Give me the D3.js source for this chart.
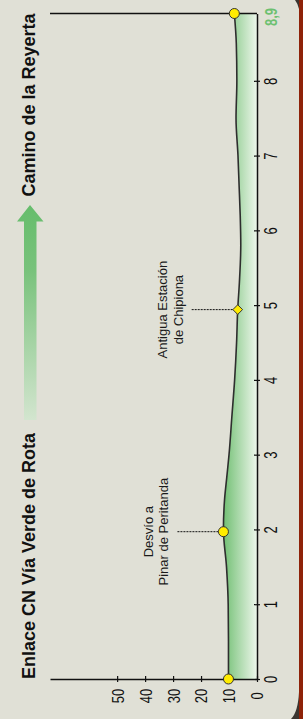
<!DOCTYPE html>
<html>
<head>
<meta charset="utf-8">
<script src="https://cdn.jsdelivr.net/npm/d3@7"></script>
<style>
  body { margin: 0; background: #e0e0d6; }
  svg { display: block; font-family: "Liberation Sans", Arial, sans-serif; }
</style>
</head>
<body>
<div id="chart"></div>
<script>
// Profile data (distance in km, elevation in m)
const distKm = [0, 0.5, 1, 1.5, 2, 2.4, 2.7, 3, 3.5, 4, 4.5, 4.94, 5.3, 5.8, 6.2, 6.6, 7, 7.5, 8, 8.5, 8.9];
const elevM  = [10.2, 10.2, 10.3, 10.9, 12, 11.6, 10.8, 10, 9, 8, 7.3, 6.9, 6.3, 5.8, 6.0, 6.4, 6.8, 7.5, 7.2, 7.4, 8.1];

// Waypoints
const wpKm    = [0, 1.97, 4.94, 8.9];
const wpElev  = [10.2, 12, 6.9, 8.1];
const wpShape = ["circle", "circle", "diamond", "circle"];
const wpLabel = [null, ["Desvío a", "Pinar de Peritanda"], ["Antigua Estación", "de Chipiona"], null];

// Axis ticks
const distTicks = [0, 1, 2, 3, 4, 5, 6, 7, 8];
const elevTicks = [0, 10, 20, 30, 40, 50];
const startName = "Enlace CN Vía Verde de Rota";
const endName = "Camino de la Reyerta";
const totalLabel = "8,9";

const W = 303, H = 719;
const profile = distKm.map((d, i) => ({ km: d, e: elevM[i] }));

const svg = d3.select("#chart").append("svg")
    .attr("width", W)
    .attr("height", H);

// Background + right border
svg.append("rect").attr("width", W).attr("height", H).attr("fill", "#e0e0d6");
svg.append("path")
    .attr("d", "M299,692 Q298,712 291,719 L299,719 Z")
    .attr("fill", "#3a3530");
svg.append("path")
    .attr("d", "M295,0 Q298,4 299,9 L299,0 Z")
    .attr("fill", "#3a3530");
svg.append("rect").attr("x", 299).attr("width", 4).attr("height", H).attr("fill", "#8e2208");

const defs = svg.append("defs");
const areaGrad = defs.append("linearGradient")
    .attr("id", "areaGrad")
    .attr("gradientUnits", "userSpaceOnUse")
    .attr("x1", 222).attr("x2", 257).attr("y1", 0).attr("y2", 0);
areaGrad.append("stop").attr("offset", 0).attr("stop-color", "#6cbd6e");
areaGrad.append("stop").attr("offset", 1).attr("stop-color", "#edf6eb");

const arrowGrad = defs.append("linearGradient")
    .attr("id", "arrowGrad")
    .attr("gradientUnits", "userSpaceOnUse")
    .attr("x1", 0).attr("x2", 0).attr("y1", 205).attr("y2", 420);
arrowGrad.append("stop").attr("offset", 0).attr("stop-color", "#66bd6c");
arrowGrad.append("stop").attr("offset", 0.3).attr("stop-color", "#78c27b");
arrowGrad.append("stop").attr("offset", 1).attr("stop-color", "#d3e5cf");

// Scales: distance runs up the page, elevation runs leftwards
const yDist = d3.scaleLinear().domain([0, 8.9]).range([679, 13.5]);
const xElev = d3.scaleLinear().domain([0, 74]).range([257, 50]);

// Filled profile
const area = d3.area()
    .y(d => yDist(d.km))
    .x0(xElev(0))
    .x1(d => xElev(d.e))
    .curve(d3.curveMonotoneY);
svg.append("path").datum(profile)
    .attr("d", area)
    .attr("fill", "url(#areaGrad)");

const line = d3.line()
    .y(d => yDist(d.km))
    .x(d => xElev(d.e))
    .curve(d3.curveMonotoneY);
svg.append("path").datum(profile)
    .attr("d", line)
    .attr("fill", "none")
    .attr("stroke", "#2e2e2e")
    .attr("stroke-width", 1.6);

// Distance axis (vertical)
const distAxis = svg.append("g")
    .attr("transform", `translate(${xElev(0)},0)`)
    .call(d3.axisRight(yDist).tickValues(distTicks).tickSizeOuter(0).tickFormat(d3.format("d")));
distAxis.select(".domain").attr("stroke", "#111").attr("stroke-width", 1.5);
distAxis.selectAll(".tick line").attr("x1", -3).attr("x2", 3).attr("stroke", "#111").attr("stroke-width", 1.2);
distAxis.selectAll(".tick text")
    .attr("x", null).attr("dy", "0.35em")
    .attr("transform", "translate(13.5,0) scale(1.35,1) rotate(-90)")
    .attr("text-anchor", "middle")
    .attr("font-size", 13)
    .attr("font-family", "Liberation Sans, Arial, sans-serif")
    .attr("fill", "#111");

// Elevation axis (horizontal, at km 0)
const elevAxis = svg.append("g")
    .attr("transform", `translate(0,${yDist(0)})`)
    .call(d3.axisBottom(xElev).tickValues(elevTicks).tickSizeOuter(0));
elevAxis.select(".domain").attr("stroke", "#111").attr("stroke-width", 1.5);
elevAxis.selectAll(".tick line").attr("y1", -3).attr("y2", 3).attr("stroke", "#111").attr("stroke-width", 1.2);
elevAxis.selectAll(".tick text")
    .attr("y", null).attr("dy", "0.35em")
    .attr("transform", "translate(0,17) scale(1.3,1) rotate(-90)")
    .attr("text-anchor", "middle")
    .attr("font-size", 13)
    .attr("font-family", "Liberation Sans, Arial, sans-serif")
    .attr("fill", "#111");

// Closing line at the end of the route
svg.append("line")
    .attr("x1", xElev(74)).attr("x2", xElev(0))
    .attr("y1", yDist(8.9)).attr("y2", yDist(8.9))
    .attr("stroke", "#111").attr("stroke-width", 1.5);

svg.append("text")
    .attr("transform", `translate(271,${yDist(8.9) + 3.5}) scale(1.3,1) rotate(-90)`)
    .attr("dy", "0.35em")
    .attr("text-anchor", "middle")
    .attr("font-size", 13)
    .attr("font-weight", "bold")
    .attr("fill", "#6cc070")
    .text(totalLabel);

// Waypoints
wpKm.forEach((km, i) => {
    const cx = xElev(wpElev[i]), cy = yDist(km);
    if (wpLabel[i]) {
        const x0 = cx - 46;
        svg.append("line")
            .attr("x1", x0).attr("x2", cx)
            .attr("y1", cy).attr("y2", cy)
            .attr("stroke", "#111").attr("stroke-width", 1)
            .attr("stroke-dasharray", "2,1");
        const lines = wpLabel[i];
        lines.forEach((t, j) => {
            const bx = x0 - 9 - (lines.length - 1 - j) * 15.5;
            svg.append("text")
                .attr("transform", `translate(${bx},${cy}) rotate(-90)`)
                .attr("text-anchor", "middle")
                .attr("font-size", 13)
                .attr("fill", "#1a1a1a")
                .text(t);
        });
    }
    if (wpShape[i] === "diamond") {
        svg.append("path")
            .attr("d", d3.symbol(d3.symbolDiamond2, 60)())
            .attr("transform", `translate(${cx},${cy})`)
            .attr("fill", "#ffec00").attr("stroke", "#333").attr("stroke-width", 1);
    } else {
        svg.append("circle")
            .attr("cx", cx).attr("cy", cy).attr("r", 5)
            .attr("fill", "#ffec00").attr("stroke", "#333").attr("stroke-width", 1);
    }
});

// Route direction: titles and arrow
svg.append("text")
    .attr("transform", `translate(35,${yDist(0)}) rotate(-90)`)
    .attr("text-anchor", "start")
    .attr("font-size", 18)
    .attr("font-weight", "bold")
    .attr("fill", "#111")
    .text(startName);
svg.append("text")
    .attr("transform", `translate(35,${yDist(8.9)}) rotate(-90)`)
    .attr("text-anchor", "end")
    .attr("font-size", 18)
    .attr("font-weight", "bold")
    .attr("fill", "#111")
    .text(endName);

svg.append("path")
    .attr("d", "M30,205 L43.5,221.5 L36.5,221.5 L36.5,420 L24,420 L24,221.5 L17,221.5 Z")
    .attr("fill", "url(#arrowGrad)");
</script>
</body>
</html>
